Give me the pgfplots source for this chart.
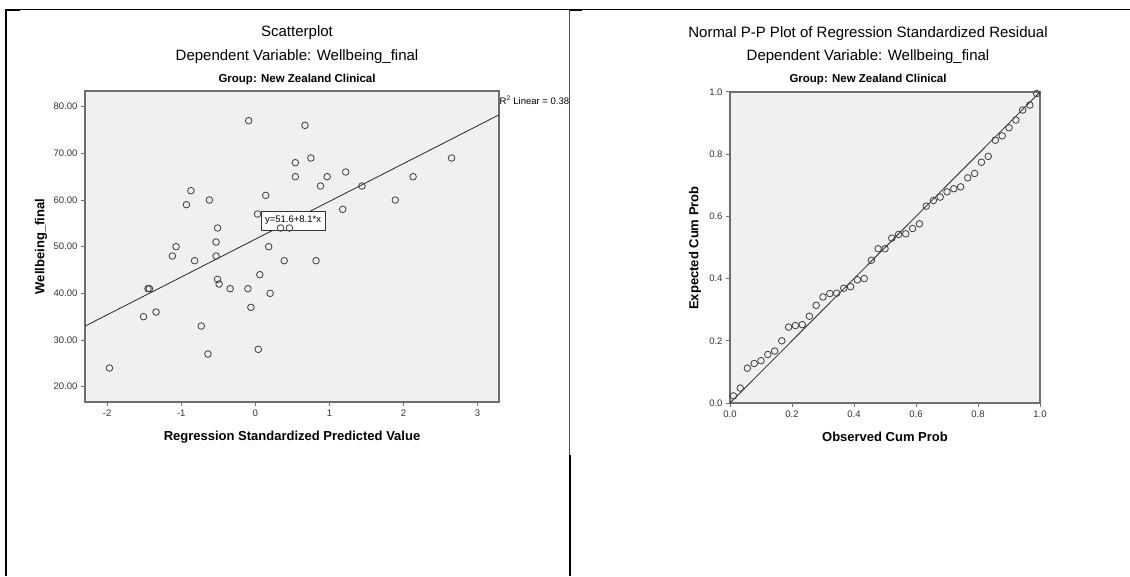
\documentclass[border=0pt]{standalone}
\usepackage{pgfplots}
\pgfplotsset{compat=1.18}
\usepackage{fontspec}
\setmainfont{Liberation Sans}
\definecolor{axbg}{RGB}{240,240,240}
\definecolor{axln}{RGB}{110,110,110}
\definecolor{mk}{RGB}{60,60,60}
\pgfplotstableread{
x y
-0.09 77
0.67 76
0.75 69
2.65 69
0.54 68
1.22 66
0.54 65
0.97 65
2.13 65
0.88 63
1.44 63
-0.87 62
0.14 61
-0.62 60
1.89 60
-0.93 59
1.18 58
0.03 57
-0.51 54
0.34 54
0.46 54
-0.53 51
-1.07 50
0.18 50
-1.12 48
-0.53 48
-0.82 47
0.39 47
0.82 47
0.06 44
-0.51 43
-0.49 42
-1.45 41
-1.43 41
-0.34 41
-0.10 41
0.20 40
-0.06 37
-1.34 36
-1.51 35
-0.73 33
0.04 28
-0.64 27
-1.97 24
}\scatterdata
\pgfplotstableread{
obs exp
0.011 0.023
0.033 0.048
0.056 0.112
0.078 0.127
0.100 0.136
0.122 0.156
0.144 0.167
0.167 0.200
0.189 0.244
0.211 0.249
0.233 0.252
0.256 0.279
0.278 0.314
0.300 0.341
0.322 0.352
0.344 0.353
0.367 0.369
0.389 0.374
0.411 0.396
0.433 0.400
0.456 0.459
0.478 0.496
0.500 0.496
0.522 0.530
0.544 0.542
0.567 0.544
0.589 0.561
0.611 0.576
0.633 0.633
0.656 0.651
0.678 0.662
0.700 0.679
0.722 0.689
0.744 0.695
0.767 0.724
0.789 0.738
0.811 0.774
0.833 0.793
0.856 0.845
0.878 0.859
0.900 0.885
0.922 0.910
0.944 0.942
0.967 0.958
0.989 0.995
}\ppdata
\begin{document}
\begin{tikzpicture}[x=1pt,y=1pt]
\useasboundingbox (0,0) rectangle (1130,576);
\fill[white] (0,0) rectangle (1130,576);
\pgfplotsset{
  spssaxis/.style={
    scale only axis,
    axis background/.style={fill=axbg},
    axis line style={axln, line width=1.3pt},
    tick style={axln, line width=1pt},
    major tick length=4pt,
    tick align=outside,
    tick pos=left,
    ticklabel style={font=\fontsize{9.5}{11}\selectfont, text=black!80},
    /pgf/number format/assume math mode=true,
  }
}
\begin{axis}[spssaxis, at={(85pt,174pt)}, anchor=south west,
  width=414pt, height=311pt,
  xmin=-2.30, xmax=3.29, ymin=16.72, ymax=83.36,
  xtick={-2,-1,0,1,2,3}, ytick={20,30,40,50,60,70,80},
  yticklabel style={/pgf/number format/.cd, fixed, fixed zerofill, precision=2}]
\addplot[black!85, line width=0.8pt] coordinates {(-2.30,32.97) (3.29,78.25)};
\addplot[only marks, mark=o, mark size=3.3pt, mark options={mk, line width=0.8pt}] table[x=x,y=y] {\scatterdata};
\node[draw=black!80, fill=white, line width=0.8pt, font=\fontsize{9.5}{11}\selectfont, inner xsep=4pt, minimum height=19pt] at (axis cs:0.51,55.6) {y=51.6+8.1*x};
\end{axis}
\begin{axis}[spssaxis, at={(730pt,173pt)}, anchor=south west,
  width=310pt, height=311pt,
  xmin=0, xmax=1, ymin=0, ymax=1,
  xtick={0,0.2,0.4,0.6,0.8,1}, ytick={0,0.2,0.4,0.6,0.8,1},
  xticklabel style={/pgf/number format/.cd, fixed, fixed zerofill, precision=1},
  yticklabel style={/pgf/number format/.cd, fixed, fixed zerofill, precision=1}]
\addplot[black!85, line width=0.8pt] coordinates {(0,0) (1,1)};
\addplot[only marks, mark=o, mark size=3.3pt, mark options={mk, line width=0.8pt}] table[x=obs,y=exp] {\ppdata};
\end{axis}
% frame lines
\draw[black, line width=1pt] (5,566) -- (1130,566);
\draw[black, line width=2pt] (5,566) -- (20,566);
\draw[black, line width=2pt] (570,566) -- (582,566);
\draw[black, line width=2pt] (5.5,566) -- (5.5,0);
\draw[black!70, line width=0.8pt] (569,566) -- (569,121);
\draw[black, line width=2pt] (570,121) -- (570,0);
% titles left
\node[font=\fontsize{15}{17}\selectfont] at (297,543.3) {Scatterplot};
\node[font=\fontsize{15}{17}\selectfont] at (297,519.5) {Dependent Variable: Wellbeing\_final};
\node[font=\bfseries\fontsize{11.5}{13}\selectfont] at (297,496.5) {Group: New Zealand Clinical};
\node[anchor=west, font=\fontsize{9.5}{11}\selectfont, inner sep=0pt] at (499.5,476) {R\textsuperscript{2} Linear = 0.38};
\node[font=\bfseries\fontsize{13}{15}\selectfont] at (292,139) {Regression Standardized Predicted Value};
\node[rotate=90, font=\bfseries\fontsize{13}{15}\selectfont] at (41,329.5) {Wellbeing\_final};
% titles right
\node[font=\fontsize{15}{17}\selectfont] at (868,542.5) {Normal P-P Plot of Regression Standardized Residual};
\node[font=\fontsize{15}{17}\selectfont] at (868,519) {Dependent Variable: Wellbeing\_final};
\node[font=\bfseries\fontsize{11.5}{13}\selectfont] at (868,496) {Group: New Zealand Clinical};
\node[font=\bfseries\fontsize{13}{15}\selectfont] at (885,139) {Observed Cum Prob};
\node[rotate=90, font=\bfseries\fontsize{13}{15}\selectfont] at (695,328) {Expected Cum Prob};
\end{tikzpicture}
\end{document}
